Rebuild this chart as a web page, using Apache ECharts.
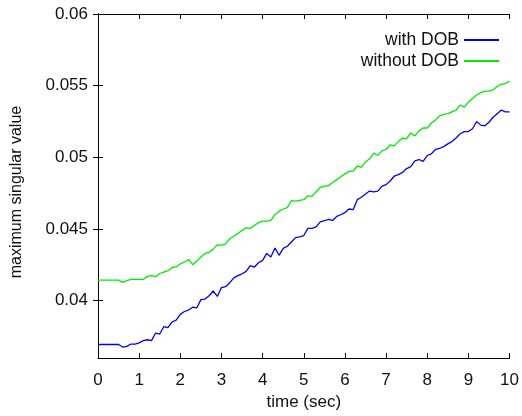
<!DOCTYPE html>
<html>
<head>
<meta charset="utf-8">
<script src="https://cdn.jsdelivr.net/npm/echarts@6/dist/echarts.min.js"></script>
<style>
  html, body { margin: 0; padding: 0; background: #fff; }
  #chart { width: 522px; height: 416px; }
</style>
</head>
<body>
<div id="chart"></div>
<script>
// Sample times (sec), 0 to 10 in steps of 0.1
const times = [];
for (let i = 0; i <= 100; i++) times.push(+(i * 0.1).toFixed(1));

// Maximum singular value, with disturbance observer
const withDOB = [
  0.03695, 0.03695, 0.03695, 0.03695, 0.03695, 0.03695, 0.03677, 0.03682, 0.03698, 0.03697,
  0.03706, 0.03722, 0.03728, 0.03722, 0.03775, 0.03768, 0.03820, 0.03812, 0.03852, 0.03865,
  0.03905, 0.03925, 0.03935, 0.03955, 0.03950, 0.04008, 0.04012, 0.04035, 0.04068, 0.04030,
  0.04092, 0.04098, 0.04125, 0.04160, 0.04175, 0.04188, 0.04205, 0.04245, 0.04235, 0.04265,
  0.04282, 0.04330, 0.04305, 0.04368, 0.04317, 0.04365, 0.04380, 0.04410, 0.04440, 0.04445,
  0.04455, 0.04505, 0.04505, 0.04515, 0.04550, 0.04558, 0.04568, 0.04560, 0.04588, 0.04600,
  0.04615, 0.04640, 0.04635, 0.04705, 0.04722, 0.04745, 0.04765, 0.04760, 0.04765, 0.04800,
  0.04810, 0.04835, 0.04870, 0.04880, 0.04895, 0.04922, 0.04935, 0.04975, 0.04985, 0.04972,
  0.05013, 0.05025, 0.05055, 0.05062, 0.05075, 0.05094, 0.05110, 0.05135, 0.05165, 0.05180,
  0.05180, 0.05200, 0.05250, 0.05225, 0.05220, 0.05245, 0.05280, 0.05305, 0.05330, 0.05318,
  0.05318
];

// Maximum singular value, without disturbance observer
const withoutDOB = [
  0.04144, 0.04144, 0.04144, 0.04144, 0.04144, 0.04144, 0.04128, 0.04140, 0.04149, 0.04149,
  0.04149, 0.04150, 0.04170, 0.04176, 0.04168, 0.04190, 0.04200, 0.04210, 0.04232, 0.04236,
  0.04258, 0.04270, 0.04288, 0.04252, 0.04275, 0.04305, 0.04330, 0.04338, 0.04360, 0.04390,
  0.04388, 0.04395, 0.04432, 0.04450, 0.04470, 0.04490, 0.04508, 0.04505, 0.04525, 0.04545,
  0.04556, 0.04556, 0.04560, 0.04600, 0.04625, 0.04640, 0.04650, 0.04698, 0.04695, 0.04700,
  0.04705, 0.04732, 0.04728, 0.04760, 0.04790, 0.04800, 0.04802, 0.04825, 0.04845, 0.04865,
  0.04885, 0.04902, 0.04905, 0.04940, 0.04930, 0.04968, 0.04990, 0.05030, 0.05015, 0.05045,
  0.05055, 0.05088, 0.05080, 0.05110, 0.05135, 0.05130, 0.05170, 0.05150, 0.05185, 0.05205,
  0.05205, 0.05240, 0.05260, 0.05290, 0.05300, 0.05305, 0.05317, 0.05330, 0.05365, 0.05350,
  0.05385, 0.05410, 0.05435, 0.05452, 0.05462, 0.05462, 0.05470, 0.05495, 0.05510, 0.05515,
  0.05532
];

// Labelled y ticks
const yTicks = [0.04, 0.045, 0.05, 0.055, 0.06];
const yLabels = ['0.04', '0.045', '0.05', '0.055', '0.06'];

const FONT = '"Liberation Sans", Arial, Helvetica, sans-serif';
const INK = '#111';

const tickStyle = { show: true, inside: true, length: 5, lineStyle: { color: '#000', width: 1 } };
const lineStyle = { show: true, lineStyle: { color: '#000', width: 1 } };

const chart = echarts.init(document.getElementById('chart'), null, { renderer: 'canvas' });

chart.setOption({
  animation: false,
  backgroundColor: '#fff',
  grid: { left: 98, right: 11, top: 14, bottom: 55, containLabel: false },
  legend: {
    orient: 'vertical',
    right: 22,
    top: 31,
    padding: 0,
    align: 'right',
    itemWidth: 35,
    itemHeight: 10,
    itemGap: 3,
    itemStyle: { opacity: 0 },
    textStyle: { fontFamily: FONT, fontSize: 17.5, color: INK },
    data: ['with DOB', 'without DOB']
  },
  xAxis: [
    {
      type: 'value', position: 'bottom', min: 0, max: 10, interval: 1,
      name: 'time (sec)', nameLocation: 'middle', nameGap: 34,
      nameTextStyle: { fontFamily: FONT, fontSize: 17, color: INK },
      axisLine: lineStyle, axisTick: tickStyle,
      axisLabel: { fontFamily: FONT, fontSize: 17, color: INK, margin: 14 },
      splitLine: { show: false }
    },
    {
      type: 'value', position: 'top', min: 0, max: 10, interval: 1,
      axisLine: lineStyle, axisTick: tickStyle,
      axisLabel: { show: false }, splitLine: { show: false }
    }
  ],
  yAxis: [
    {
      type: 'value', position: 'left', min: 0.036, max: 0.06,
      name: 'maximum singular value', nameLocation: 'middle', nameGap: 73,
      nameTextStyle: { fontFamily: FONT, fontSize: 16, color: INK, padding: [0, 12, 0, 0] },
      axisLine: lineStyle,
      axisTick: Object.assign({}, tickStyle, { customValues: yTicks }),
      axisLabel: {
        fontFamily: FONT, fontSize: 17, color: INK, margin: 10,
        customValues: yTicks,
        formatter: v => {
          const i = yTicks.findIndex(t => Math.abs(t - v) < 1e-9);
          return i >= 0 ? yLabels[i] : '';
        }
      },
      splitLine: { show: false }
    },
    {
      type: 'value', position: 'right', min: 0.036, max: 0.06,
      axisLine: lineStyle,
      axisTick: Object.assign({}, tickStyle, { customValues: yTicks }),
      axisLabel: { show: false }, splitLine: { show: false }
    }
  ],
  series: [
    {
      name: 'with DOB', type: 'line', symbol: 'none', xAxisIndex: 0, yAxisIndex: 0,
      lineStyle: { color: '#0000ff', width: 1.3 }, itemStyle: { color: '#0000ff' },
      data: times.map((t, i) => [t, withDOB[i]])
    },
    {
      name: 'without DOB', type: 'line', symbol: 'none', xAxisIndex: 0, yAxisIndex: 0,
      lineStyle: { color: '#00ee00', width: 1.3 }, itemStyle: { color: '#00ee00' },
      data: times.map((t, i) => [t, withoutDOB[i]])
    }
  ]
});
</script>
</body>
</html>
